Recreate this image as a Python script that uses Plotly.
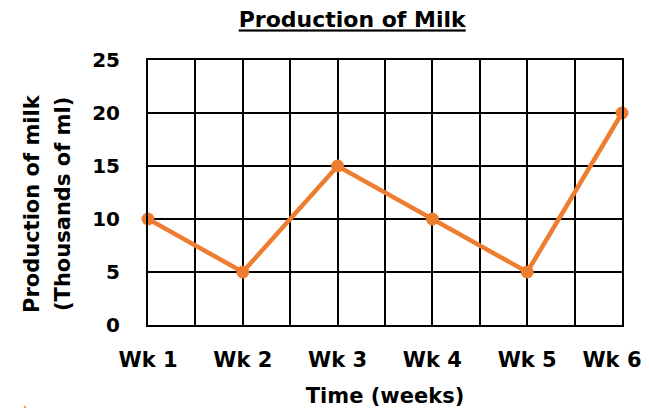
import plotly.graph_objects as go

weeks = ["Wk 1", "Wk 2", "Wk 3", "Wk 4", "Wk 5", "Wk 6"]
milk = [10, 5, 15, 10, 5, 20]
y_ticks = [0, 5, 10, 15, 20, 25]
y_title_lines = ["Production of milk", "(Thousands of ml)"]

FONT = "DejaVu Sans"
ORANGE = "#ED7D31"
x_idx = list(range(len(weeks)))
NB = "\u00a0"
# last label is nudged left (kept inside the chart, as in the reference)
x_labels = [f"<b>{w}</b>" for w in weeks[:-1]] + [f"<b>{weeks[-1]}</b>" + NB * 3]

fig = go.Figure()
fig.add_trace(go.Scatter(
    x=x_idx, y=milk, mode="lines+markers",
    line=dict(color=ORANGE, width=4.5),
    marker=dict(color=ORANGE, size=13),
    cliponaxis=False, showlegend=False,
))

# page body has an 8px margin, so the figure is sized/offset to compensate
fig.update_layout(
    width=641, height=400,
    margin=dict(l=140, r=27, t=52, b=83, autoexpand=False),
    paper_bgcolor="white", plot_bgcolor="white",
    font=dict(family=FONT, color="black"),
    title=dict(text="<b><u>Production of Milk</u></b>", x=0.537, xanchor="center",
               y=0.99, yanchor="top", font=dict(size=22, family=FONT)),
    xaxis=dict(
        range=[0, 5], tickmode="array", tickvals=x_idx, ticktext=x_labels,
        tickfont=dict(size=21, family=FONT), ticks="", ticklabelstandoff=15,
        ticklabeloverflow="allow",
        showgrid=True, gridcolor="black", gridwidth=2, automargin=False,
        minor=dict(dtick=0.5, tick0=0, showgrid=True, gridcolor="black", gridwidth=2),
        showline=True, linecolor="black", linewidth=2, mirror=True, zeroline=False,
        title=dict(text="<b>Time (weeks)</b>", font=dict(size=21, family=FONT), standoff=20),
    ),
    yaxis=dict(
        range=[0, 25], tickmode="array", tickvals=y_ticks, ticktext=[f"<b>{v}</b>" for v in y_ticks],
        tickfont=dict(size=20, family=FONT), ticks="", ticklabelstandoff=22,
        showgrid=True, gridcolor="black", gridwidth=2, automargin=False,
        showline=True, linecolor="black", linewidth=2, mirror=True, zeroline=False,
    ),
)

for xp, line in zip([-0.2447, -0.1793], y_title_lines):
    fig.add_annotation(text=f"<b>{line}</b>", xref="paper", yref="paper", x=xp, y=0.4566,
                       xanchor="center", yanchor="middle", textangle=-90, showarrow=False,
                       font=dict(size=21, family=FONT, color="black"))

# small decorative orange triangle tip at the bottom-left edge
fig.add_shape(type="path", xref="paper", yref="paper",
              path="M -0.2595,-0.300 L -0.2505,-0.36 L -0.2685,-0.36 Z",
              fillcolor=ORANGE, line=dict(width=0))

fig.write_html("out.html")
